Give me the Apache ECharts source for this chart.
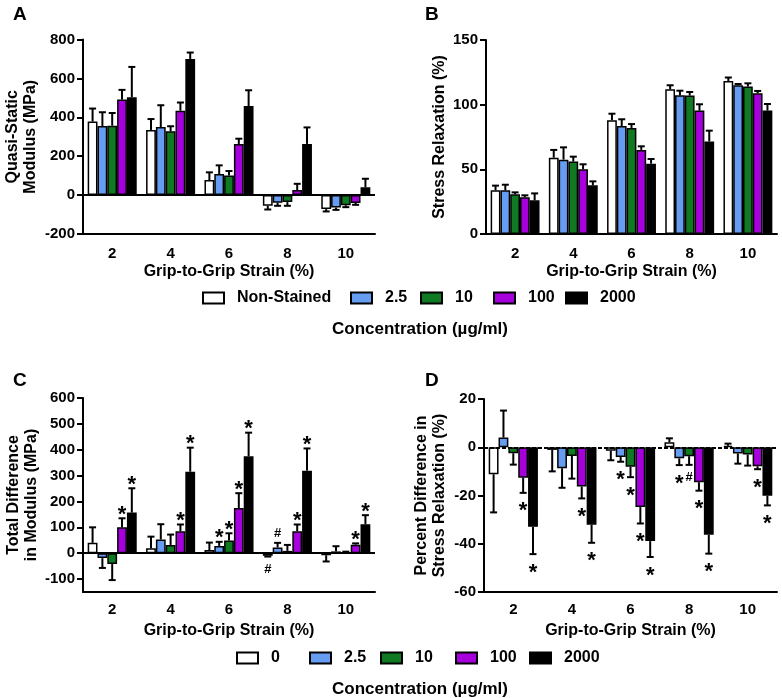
<!DOCTYPE html>
<html><head><meta charset="utf-8">
<script src="https://cdn.jsdelivr.net/npm/echarts@6/dist/echarts.min.js"></script>
<style>html,body{margin:0;padding:0;background:#fff}#c{width:782px;height:698px}</style>
</head><body><div id="c"></div>
<script>
// ---------------- DATA ----------------
const categories = ['2', '4', '6', '8', '10'];
const concNamesAB = ['Non-Stained', '2.5', '10', '100', '2000'];
const concNamesCD = ['0', '2.5', '10', '100', '2000'];

// Panel A: Quasi-Static Modulus (MPa), mean and SD
const aNonStained = [378, 335, 77, -55, -72];
const a2p5        = [355, 350, 108, -39, -64];
const a10         = [357, 328, 101, -36, -52];
const a100        = [491, 434, 263, 26, -40];
const a2000       = [503, 700, 458, 263, 40];
const aNonStainedSd = [67, 56, 40, 19, 12];
const a2p5Sd        = [71, 112, 45, 16, 12];
const a10Sd         = [65, 26, 23, 19, 10];
const a100Sd        = [50, 42, 27, 32, 10];
const a2000Sd       = [156, 33, 81, 85, 44];

// Panel B: Stress Relaxation (%)
const bNonStained = [33.8, 59, 88, 111.9, 118.3];
const b2p5        = [33.8, 57.5, 83.5, 107.2, 115];
const b10         = [30.7, 56, 82, 107, 114];
const b100        = [28.4, 50, 65, 95.4, 108.8];
const b2000       = [26, 37.6, 54.4, 71.6, 95.4];
const bNonStainedSd = [3.6, 6, 5, 3.1, 2.7];
const b2p5Sd        = [4.3, 9.5, 5.2, 3.6, 1];
const b10Sd         = [1.5, 3.8, 3, 2.8, 2.5];
const b100Sd        = [1.5, 3.9, 2.8, 4.9, 1.8];
const b2000Sd       = [5.4, 3.1, 3.6, 8.3, 5.1];

// Panel C: Total Difference in Modulus (MPa)
const c0    = [40, 19, 12, -10, -8];
const c2p5  = [-19, 53, 28, 22, 7];
const c10   = [-42, 32, 49, 9, 4];
const c100  = [100, 85, 175, 85, 33];
const c2000 = [157, 315, 375, 319, 112];
const c0Sd    = [60, 45, 29, 3, 24];
const c2p5Sd  = [38, 59, 16, 18, 20];
const c10Sd   = [62, 40, 28, 23, 2];
const c100Sd  = [35, 26, 57, 26, 5];
const c2000Sd = [94, 93, 91, 86, 35];
const c0Marks    = ['', '', '', '#', ''];
const c2p5Marks  = ['', '', '*', '#', ''];
const c10Marks   = ['', '', '*', '', ''];
const c100Marks  = ['*', '*', '*', '*', '*'];
const c2000Marks = ['*', '*', '*', '*', '*'];

// Panel D: Percent Difference in Stress Relaxation (%)
const d0    = [-11.2, -1.1, -1.4, 2.1, 0.6];
const d2p5  = [4, -8.7, -4, -4.6, -2.6];
const d10   = [-2.5, -3.6, -8.1, -3.7, -3];
const d100  = [-12.6, -16.3, -24.8, -14.5, -7.9];
const d2000 = [-33, -32.1, -38.9, -36.3, -20.1];
const d0Sd    = [15.8, 8.9, 4, 1.6, 0.9];
const d2p5Sd  = [11.2, 8.1, 2, 2.8, 4.2];
const d10Sd   = [4.7, 9.4, 4.3, 3.6, 4.6];
const d100Sd  = [6.3, 4.9, 6.8, 3.5, 1.2];
const d2000Sd = [11.3, 7.5, 6.6, 7.8, 4];
const d0Marks    = ['', '', '', '', ''];
const d2p5Marks  = ['', '', '*', '*', ''];
const d10Marks   = ['', '', '*', '#', ''];
const d100Marks  = ['*', '*', '*', '*', '*'];
const d2000Marks = ['*', '*', '*', '*', '*'];

// ---------------- STYLE / LAYOUT ----------------
const FONT = '"Liberation Sans", Arial, Helvetica, sans-serif';
const COLORS = ['#ffffff', '#669df2', '#0f7a22', '#a600dc', '#000000'];
const CAT_GAP = 0.16;

const panels = [
  { names: concNamesAB, vals: [aNonStained, a2p5, a10, a100, a2000], sds: [aNonStainedSd, a2p5Sd, a10Sd, a100Sd, a2000Sd], marks: null,
    grid: { left: 83, top: 39.5, width: 292, height: 194.5 }, y: { min: -200, max: 800, interval: 200 },
    yName: 'Quasi-Static\nModulus (MPa)', yGap: 43, zero: 'solid', xMargin: 12, xGap: 30 },
  { names: concNamesAB, vals: [bNonStained, b2p5, b10, b100, b2000], sds: [bNonStainedSd, b2p5Sd, b10Sd, b100Sd, b2000Sd], marks: null,
    grid: { left: 486, top: 40, width: 291, height: 194 }, y: { min: 0, max: 150, interval: 50 },
    yName: 'Stress Relaxation (%)', yGap: 34, zero: null, xMargin: 12, xGap: 30 },
  { names: concNamesCD, vals: [c0, c2p5, c10, c100, c2000], sds: [c0Sd, c2p5Sd, c10Sd, c100Sd, c2000Sd], marks: [c0Marks, c2p5Marks, c10Marks, c100Marks, c2000Marks],
    grid: { left: 83, top: 398, width: 292, height: 194 }, y: { min: -150, max: 600, custom: [-100, 0, 100, 200, 300, 400, 500, 600] },
    yName: 'Total Difference\nin Modulus (MPa)', yGap: 39, zero: 'solid', xMargin: 10, xGap: 31 },
  { names: concNamesCD, vals: [d0, d2p5, d10, d100, d2000], sds: [d0Sd, d2p5Sd, d10Sd, d100Sd, d2000Sd], marks: [d0Marks, d2p5Marks, d10Marks, d100Marks, d2000Marks],
    grid: { left: 484, top: 399, width: 293, height: 193 }, y: { min: -60, max: 20, interval: 20 },
    yName: 'Percent Difference in\nStress Relaxation (%)', yGap: 35, zero: 'dashed', xMargin: 10, xGap: 31 }
];

const txt = (size) => ({ fontFamily: FONT, fontWeight: 'bold', fontSize: size, color: '#000' });

function errRender(params, api) {
  const cat = api.value(0), si = api.value(1), v = api.value(2), sd = api.value(3);
  const end = v >= 0 ? v + sd : v - sd;
  const band = api.size([1, 0])[0];
  const bw = band * (1 - CAT_GAP) / 5;
  const p0 = api.coord([cat, v]);
  const p1 = api.coord([cat, end]);
  const x = p0[0] + (si - 2) * bw;
  return { type: 'group', children: [
    { type: 'line', shape: { x1: x, y1: p0[1], x2: x, y2: p1[1] }, style: { stroke: '#000', lineWidth: 2 } },
    { type: 'line', shape: { x1: x - 3.5, y1: p1[1], x2: x + 3.5, y2: p1[1] }, style: { stroke: '#000', lineWidth: 2 } }
  ] };
}

function makeMarkRender(texts) {
  return function (params, api) {
    const cat = api.value(0), si = api.value(1), end = api.value(2), dir = api.value(3);
    const t = texts[params.dataIndex];
    const band = api.size([1, 0])[0];
    const bw = band * (1 - CAT_GAP) / 5;
    const p = api.coord([cat, end]);
    const x = p[0] + (si - 2) * bw;
    let y, size;
    if (t === '*') {
      size = 22;
      y = dir > 0 ? p[1] - 3.5 : p[1] + 18.5;
    } else {
      size = 13;
      y = dir > 0 ? p[1] - 9 : p[1] + 13;
    }
    return { type: 'text', style: { text: t, x: x, y: y, textAlign: 'center', textVerticalAlign: 'middle',
      font: 'bold ' + size + 'px ' + FONT, fill: '#000' } };
  };
}

const grids = [], xAxes = [], yAxes = [], series = [];
panels.forEach((p, i) => {
  grids.push(p.grid);
  xAxes.push({
    gridIndex: i, type: 'category', data: categories,
    axisLine: { onZero: false, lineStyle: { color: '#000', width: 2 } },
    axisTick: { alignWithLabel: true, length: 6, lineStyle: { color: '#000', width: 2 } },
    axisLabel: Object.assign(txt(15), { margin: p.xMargin }),
    name: 'Grip-to-Grip Strain (%)', nameLocation: 'middle', nameGap: p.xGap, nameTextStyle: txt(16)
  });
  const y = {
    gridIndex: i, type: 'value', min: p.y.min, max: p.y.max,
    axisLine: { show: true, lineStyle: { color: '#000', width: 2 } },
    axisTick: { show: true, length: 6, lineStyle: { color: '#000', width: 2 } },
    splitLine: { show: false },
    axisLabel: Object.assign(txt(15), { margin: 8 }),
    name: p.yName, nameLocation: 'middle', nameRotate: 90, nameGap: p.yGap,
    nameTextStyle: Object.assign(txt(16), { lineHeight: 18 })
  };
  if (p.y.interval) y.interval = p.y.interval;
  if (p.y.custom) { y.axisLabel.customValues = p.y.custom; y.axisTick.customValues = p.y.custom; }
  yAxes.push(y);

  p.vals.forEach((arr, si) => {
    const s = {
      type: 'bar', name: p.names[si], xAxisIndex: i, yAxisIndex: i, data: arr,
      barGap: '0%', barCategoryGap: (CAT_GAP * 100) + '%',
      itemStyle: { color: COLORS[si], borderColor: '#000', borderWidth: 1.5 },
      z: 2
    };
    if (si === 0 && p.zero) {
      s.markLine = { silent: true, symbol: ['none', 'none'], label: { show: false },
        lineStyle: { color: '#000', width: 2, type: p.zero === 'dashed' ? [4, 2] : 'solid' },
        data: [{ yAxis: 0 }] };
    }
    series.push(s);
  });

  const errData = [];
  p.vals.forEach((arr, si) => arr.forEach((v, c) => errData.push([c, si, v, p.sds[si][c]])));
  series.push({ type: 'custom', xAxisIndex: i, yAxisIndex: i, renderItem: errRender, data: errData,
    encode: { x: 0, y: 2 }, z: 3, silent: true });

  if (p.marks) {
    const mData = [], mText = [];
    p.marks.forEach((arr, si) => arr.forEach((m, c) => {
      if (!m) return;
      const v = p.vals[si][c], sd = p.sds[si][c];
      const end = v >= 0 ? v + sd : v - sd;
      mData.push([c, si, end, v >= 0 ? 1 : -1]);
      mText.push(m);
    }));
    series.push({ type: 'custom', xAxisIndex: i, yAxisIndex: i, renderItem: makeMarkRender(mText), data: mData,
      encode: { x: 0, y: 2 }, z: 4, silent: true });
  }
});

// legends: one component per item
const legendLeftAB = [202, 350, 420, 493, 565];
const legendLeftCD = [236, 309, 380, 455, 529];
const legends = [];
function addLegends(names, lefts, top) {
  names.forEach((n, k) => legends.push({
    left: lefts[k], top: top, data: [n], icon: 'rect', itemWidth: 21, itemHeight: 11, padding: 0,
    selectedMode: false, itemStyle: { borderColor: '#000', borderWidth: 2 },
    textStyle: Object.assign(txt(16), { padding: [0, 0, 0, 8] })
  }));
}
addLegends(concNamesAB, legendLeftAB, 290);
addLegends(concNamesCD, legendLeftCD, 650);

const letter = (t, x, y) => ({ type: 'text', left: x, top: y, style: { text: t, font: 'bold 19px ' + FONT, fill: '#000' } });
const conc = (y) => ({ type: 'text', x: 420, y: y, style: { text: 'Concentration (µg/ml)', font: 'bold 17px ' + FONT, fill: '#000', textAlign: 'center', textVerticalAlign: 'middle' } });

const chart = echarts.init(document.getElementById('c'), null, { renderer: 'canvas' });
chart.setOption({
  animation: false,
  backgroundColor: '#fff',
  grid: grids, xAxis: xAxes, yAxis: yAxes, series: series, legend: legends,
  graphic: [letter('A', 13, 5), letter('B', 425, 5), letter('C', 13, 371), letter('D', 425, 371), conc(329), conc(689)]
});
</script></body></html>
